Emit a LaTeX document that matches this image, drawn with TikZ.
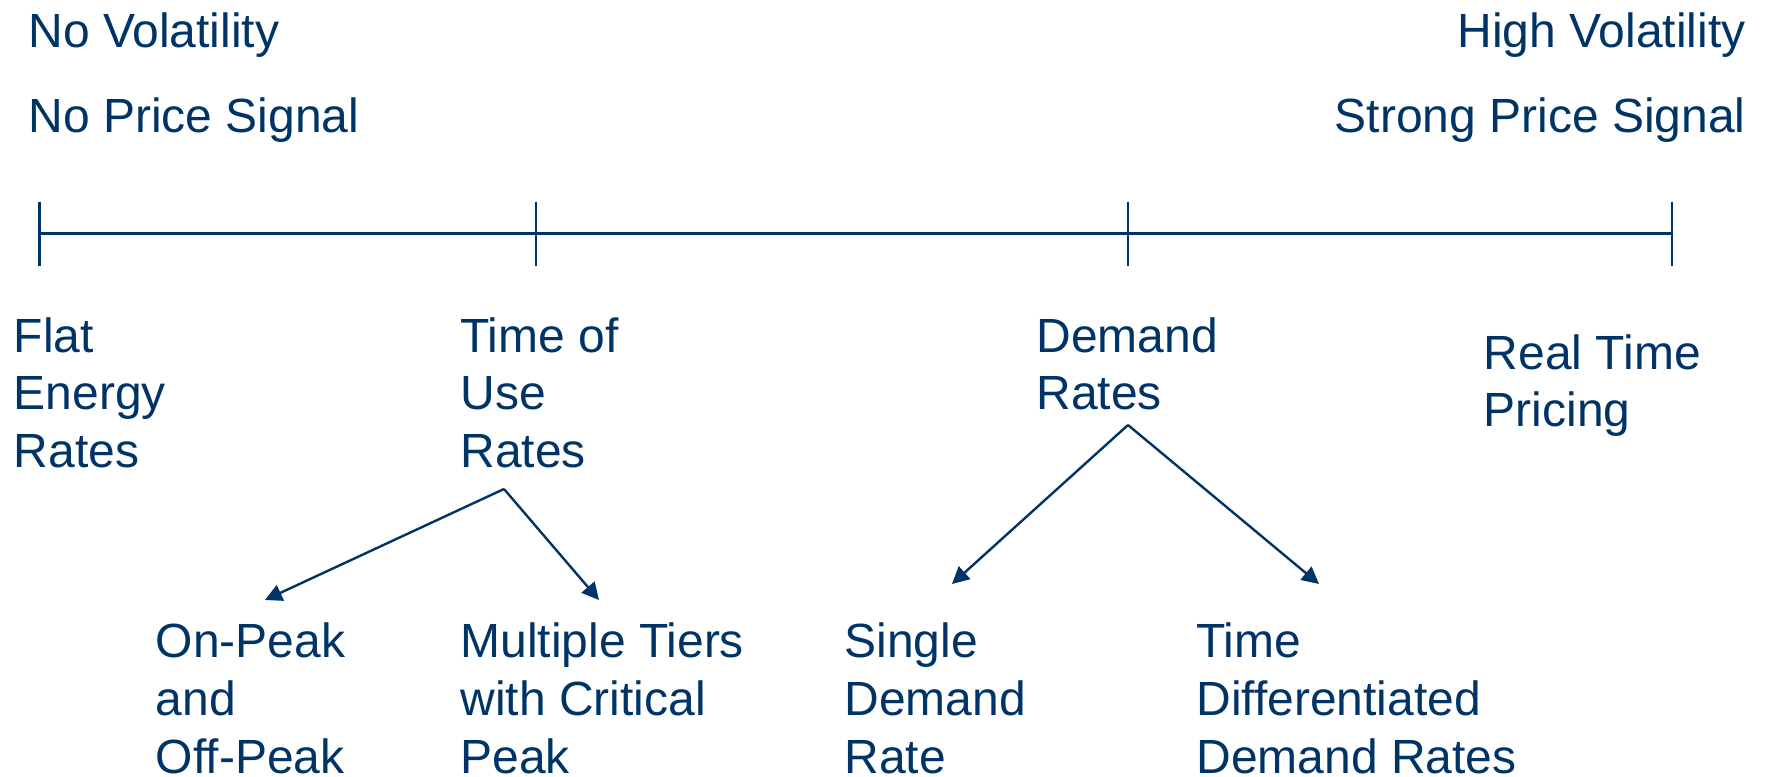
\documentclass[tikz,border=0pt]{standalone}
\usepackage{fontspec}
\setmainfont{Liberation Sans}
\usetikzlibrary{arrows.meta}
\definecolor{navy}{RGB}{0,52,102}
\begin{document}
\begin{tikzpicture}[x=0.5pt,y=-0.5pt,
  lbl/.style={inner sep=0pt,text=navy,align=left,font=\fontsize{24}{28.8}\selectfont},
  axis/.style={draw=navy,line width=1.2pt},
  branch/.style={draw=navy,line width=1.2pt,-{Triangle[length=8.5pt,width=8.5pt]}}]
\useasboundingbox (0,0) rectangle (1769,777);
% scale labels
\node[lbl,anchor=base west] (novol) at (28,47) {No Volatility};
\node[lbl,anchor=base west] (nosig) at (28,132) {No Price Signal};
\node[lbl,anchor=base east] (hivol) at (1746,47) {High Volatility};
\node[lbl,anchor=base east] (strsig) at (1746,132) {Strong Price Signal};
% axis with ticks
\coordinate (t1) at (39.5,233.5);
\coordinate (t2) at (536,233.5);
\coordinate (t3) at (1128,233.5);
\coordinate (t4) at (1672,233.5);
\draw[axis] (t1) -- (t4);
\foreach \t in {t1,t2,t3,t4}
  \draw[axis] ([yshift=16pt]\t) -- ([yshift=-16pt]\t);
% rate categories (anchored at the baseline of the last line)
\node[lbl,anchor=base west] (flat) at (13.5,467.2) {Flat\\Energy\\Rates};
\node[lbl,anchor=base west] (tou) at (460,467.2) {Time of\\Use\\Rates};
\node[lbl,anchor=base west] (dem) at (1036,409.6) {Demand\\Rates};
\node[lbl,anchor=base west] (rtp) at (1483.5,426.6) {Real Time\\Pricing};
% sub-categories
\node[lbl,anchor=base west] (onoff) at (155.5,773) {On-Peak\\and\\Off-Peak};
\node[lbl,anchor=base west] (tiers) at (460,773) {Multiple Tiers\\with Critical\\Peak};
\node[lbl,anchor=base west] (single) at (844,773) {Single\\Demand\\Rate};
\node[lbl,anchor=base west] (tdd) at (1196,773) {Time\\Differentiated\\Demand Rates};
% branches
\coordinate (touapex) at (504,489);
\coordinate (demapex) at (1128,425);
\coordinate (onofftip) at (265,600);
\coordinate (tierstip) at (599,600);
\coordinate (singletip) at (952,584);
\coordinate (tddtip) at (1319,584);
\draw[branch] (touapex) -- (onofftip);
\draw[branch] (touapex) -- (tierstip);
\draw[branch] (demapex) -- (singletip);
\draw[branch] (demapex) -- (tddtip);
\end{tikzpicture}
\end{document}
